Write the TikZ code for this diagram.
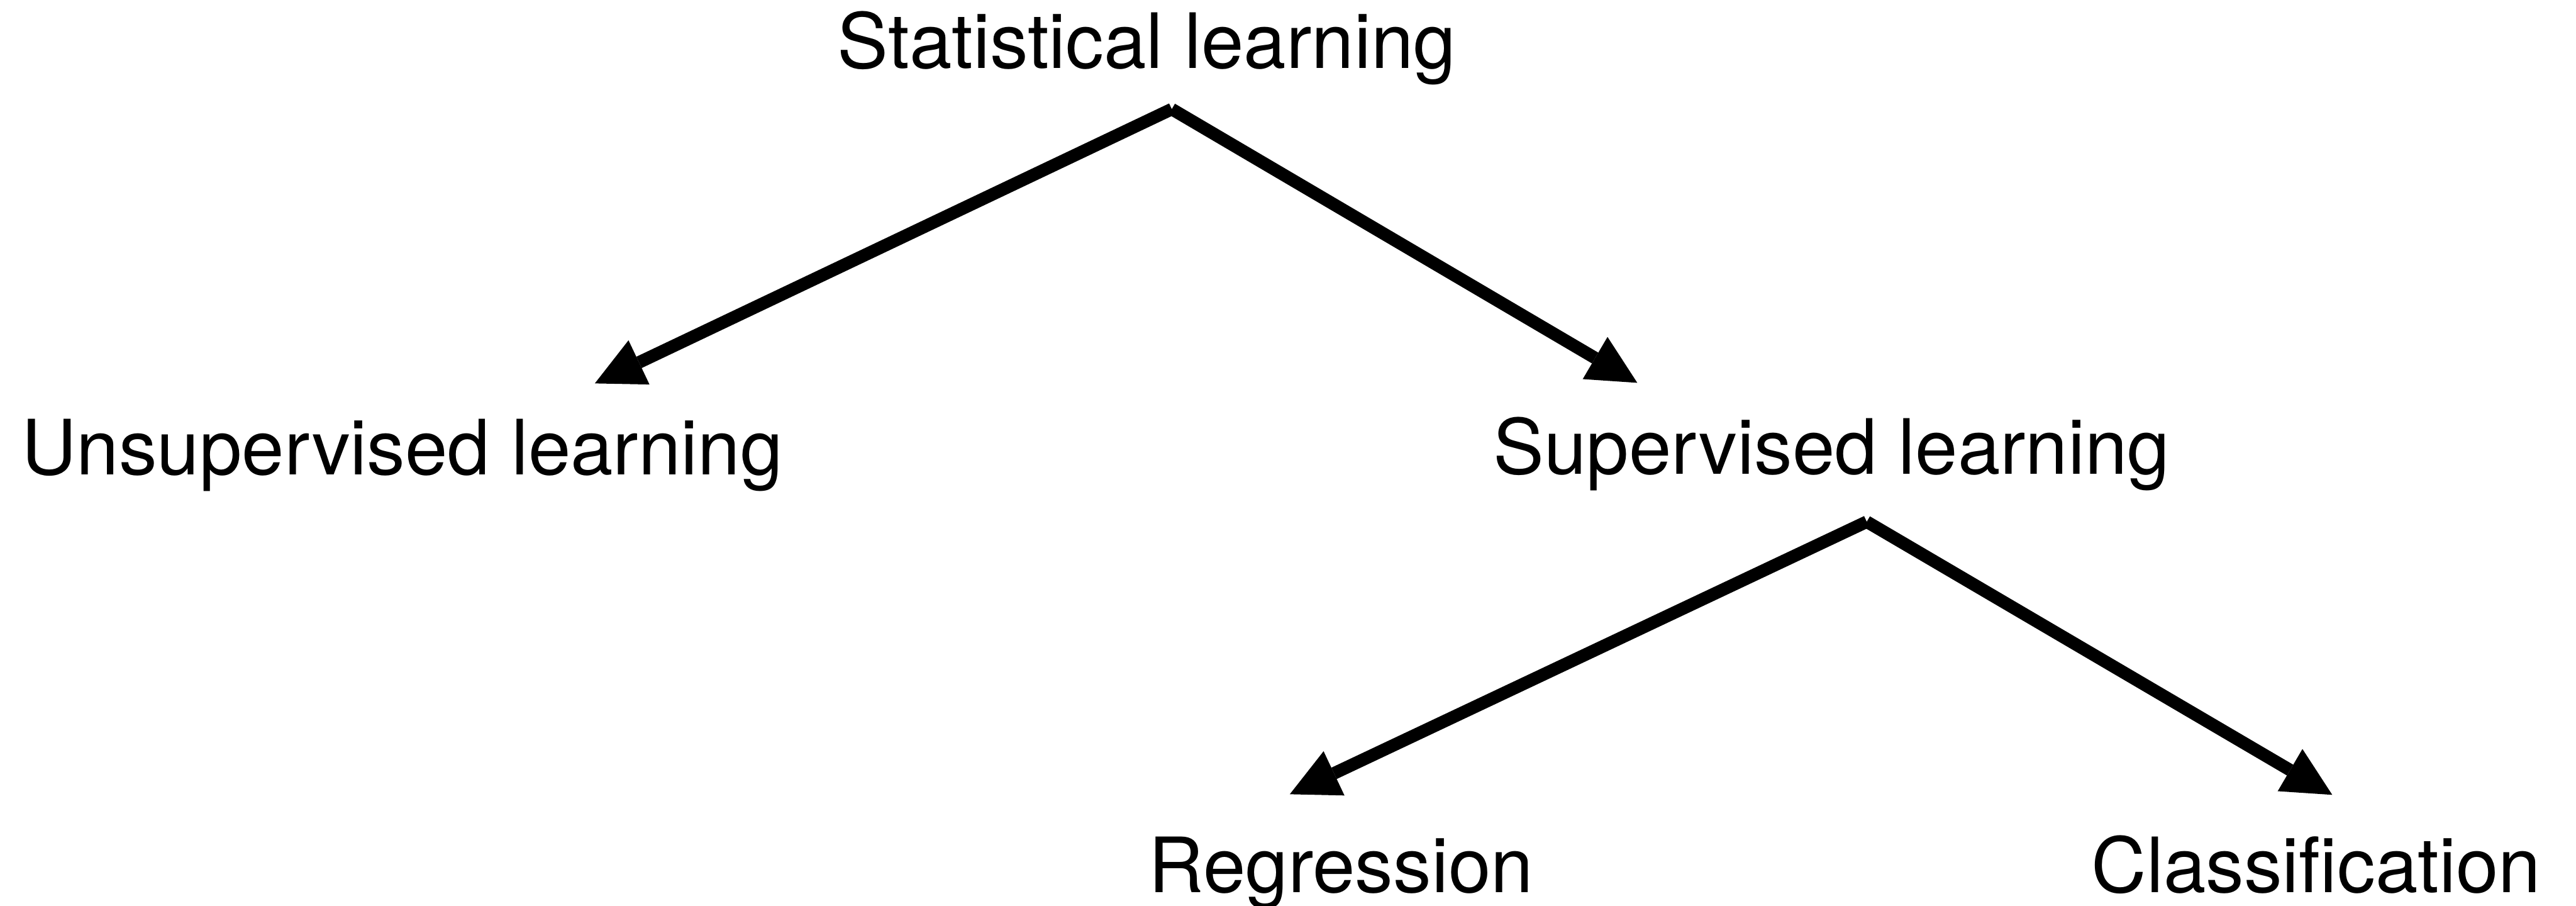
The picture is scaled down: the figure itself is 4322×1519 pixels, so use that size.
\documentclass[tikz,border=0pt]{standalone}
\usepackage{fontspec}
\setmainfont{TeX Gyre Heros}
\usetikzlibrary{arrows.meta}
\tikzset{
  lbl/.style={anchor=base,inner sep=0pt,font=\fontsize{36.4pt}{44pt}\selectfont},
  arr/.style={-{Triangle[length=8.2mm,width=8.2mm,line width=0pt]},line width=2.1mm}
}

\begin{document}
\begin{tikzpicture}[x=0.01cm,y=-0.01cm]
  \useasboundingbox (0,0) rectangle (4322,1519);

  \node[lbl] (stat)  at (1924,114)  {Statistical learning};
  \node[lbl] (unsup) at (675,796)   {Unsupervised learning};
  \node[lbl] (sup)   at (3073,795)  {Supervised learning};
  \node[lbl] (reg)   at (2250,1497) {Regression};
  \node[lbl] (cls)   at (3886,1497) {Classification};

  % where the arrows start and end
  \coordinate (stat-out)  at (1966,183);
  \coordinate (unsup-in)  at (998,643);
  \coordinate (sup-in)    at (2747,642);
  \coordinate (sup-out)   at (3132,875);
  \coordinate (reg-in)    at (2164,1332);
  \coordinate (cls-in)    at (3913,1333);

  % first split
  \draw[arr] (stat-out) -- (unsup-in);
  \draw[arr] (stat-out) -- (sup-in);

  % second split
  \draw[arr] (sup-out) -- (reg-in);
  \draw[arr] (sup-out) -- (cls-in);
\end{tikzpicture}
\end{document}
